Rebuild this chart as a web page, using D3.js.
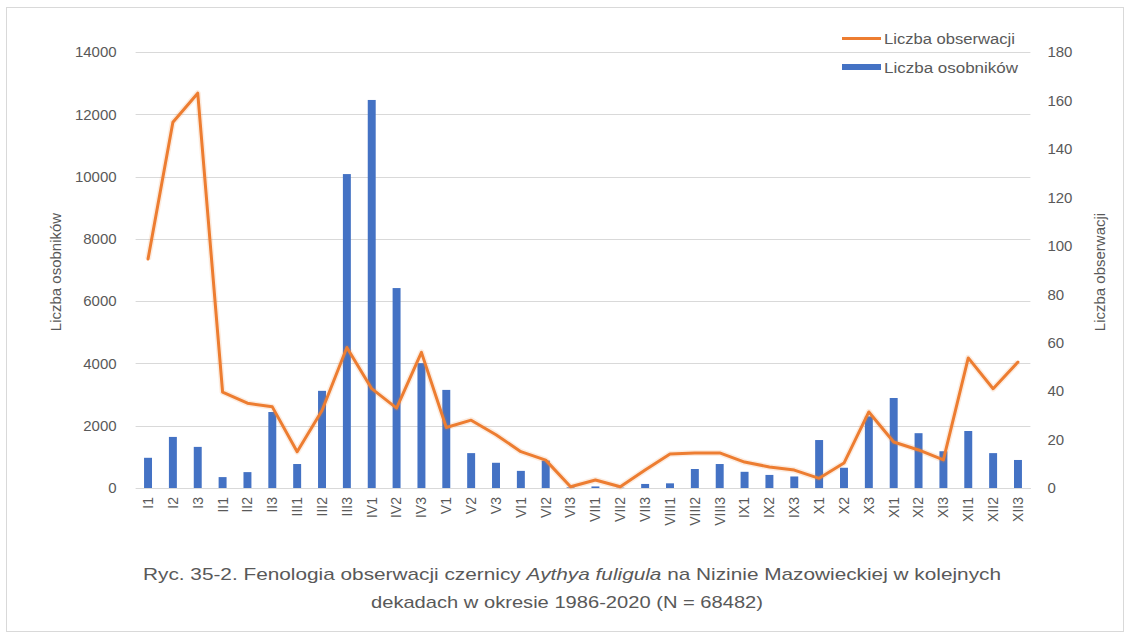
<!DOCTYPE html>
<html>
<head>
<meta charset="utf-8">
<script src="https://cdn.jsdelivr.net/npm/d3@7"></script>
<style>
  html, body { margin: 0; padding: 0; background: #fff; }
  svg { display: block; }
  text { font-family: "Liberation Sans", Arial, sans-serif; fill: #595959; }
</style>
</head>
<body>
<svg id="chart" width="1129" height="637"></svg>
<script>
const categories = ["I1","I2","I3","II1","II2","II3","III1","III2","III3","IV1","IV2","IV3",
  "V1","V2","V3","VI1","VI2","VI3","VII1","VII2","VII3","VIII1","VIII2","VIII3",
  "IX1","IX2","IX3","X1","X2","X3","XI1","XI2","XI3","XII1","XII2","XII3"];
// Liczba osobników (left axis, bars)
const individuals = [970,1640,1320,350,510,2440,770,3120,10080,12460,6420,4010,
  3150,1120,810,550,880,20,50,10,130,150,610,770,
  520,420,370,1540,650,2300,2890,1760,1180,1830,1120,900];
// Liczba obserwacji (right axis, line)
const observations = [94.5,151,163,39.6,35,33.5,15,32,58,41,33,56,
  25,28,22,15,11.5,0.5,3.3,0.5,7.4,14,14.5,14.5,
  10.7,8.7,7.4,4,10.3,31.4,19,15.7,11.6,53.7,41,52];
const leftTicks = [0,2000,4000,6000,8000,10000,12000,14000];
const rightTicks = [0,20,40,60,80,100,120,140,160,180];
const seriesNames = ["Liczba obserwacji","Liczba osobników"];
const captionLine1a = "Ryc. 35-2. Fenologia obserwacji czernicy ";
const captionItalic = "Aythya fuligula";
const captionLine1b = " na Nizinie Mazowieckiej w kolejnych";
const captionLine2 = "dekadach w okresie 1986-2020  (N = 68482)";

const svg = d3.select("#chart");
const W = 1129, H = 637;
const plot = {left: 135.6, right: 1030.4, top: 52, bottom: 488};

// frame
svg.append("rect").attr("x", 6.5).attr("y", 7.5).attr("width", 1117).attr("height", 624)
  .attr("fill", "#fff").attr("stroke", "#d9d9d9").attr("stroke-width", 1);

const x = d3.scaleBand().domain(categories).range([plot.left, plot.right]).paddingInner(0.68).paddingOuter(0.34);
const yL = d3.scaleLinear().domain([0, 14000]).range([plot.bottom, plot.top]);
const yR = d3.scaleLinear().domain([0, 180]).range([plot.bottom, plot.top]);

// gridlines
svg.append("g").selectAll("line").data(leftTicks).join("line")
  .attr("x1", plot.left).attr("x2", plot.right)
  .attr("y1", d => Math.round(yL(d)) + 0.5).attr("y2", d => Math.round(yL(d)) + 0.5)
  .attr("stroke", "#d9d9d9").attr("stroke-width", 1);

// left axis
const gL = svg.append("g").attr("transform", `translate(${plot.left},0)`)
  .call(d3.axisLeft(yL).tickValues(leftTicks).tickSize(0).tickPadding(19).tickFormat(d3.format("d")));
gL.select(".domain").remove();
gL.selectAll("text").style("font-size", "15px").style("fill", "#595959").style("font-family", "Liberation Sans, Arial, sans-serif");

// right axis
const gR = svg.append("g").attr("transform", `translate(${plot.right},0)`)
  .call(d3.axisRight(yR).tickValues(rightTicks).tickSize(0).tickPadding(17).tickFormat(d3.format("d")));
gR.select(".domain").remove();
gR.selectAll("text").style("font-size", "15px").style("fill", "#595959").style("font-family", "Liberation Sans, Arial, sans-serif");

// bars
svg.append("g").selectAll("rect").data(categories).join("rect")
  .attr("x", d => x(d))
  .attr("width", x.bandwidth())
  .attr("y", (d, i) => yL(individuals[i]))
  .attr("height", (d, i) => plot.bottom - yL(individuals[i]))
  .attr("fill", "#4472C4");

// x axis
const gX = svg.append("g").attr("transform", `translate(0,${plot.bottom})`)
  .call(d3.axisBottom(x).tickSize(0).tickPadding(0));
gX.select(".domain").attr("stroke", "#d9d9d9");
gX.selectAll("text")
  .style("font-size", "14px").style("fill", "#595959").style("font-family", "Liberation Sans, Arial, sans-serif")
  .attr("transform", "translate(0,9) rotate(-90)")
  .attr("dy", "0.35em").attr("x", 0).attr("y", 0)
  .style("text-anchor", "end");

// line
const line = d3.line().x((d, i) => x(categories[i]) + x.bandwidth() / 2).y(d => yR(d));
svg.append("path").datum(observations).attr("d", line)
  .attr("fill", "none").attr("stroke", "#ED7D31").attr("stroke-width", 6).attr("stroke-opacity", 0.15)
  .attr("stroke-linejoin", "round");
svg.append("path").datum(observations).attr("d", line)
  .attr("fill", "none").attr("stroke", "#ED7D31").attr("stroke-width", 3)
  .attr("stroke-linejoin", "round").attr("stroke-linecap", "round");

// axis titles
svg.append("text").attr("transform", "translate(61,272) rotate(-90)")
  .attr("text-anchor", "middle").style("font-size", "15px").text("Liczba osobników");
svg.append("text").attr("transform", "translate(1105,272) rotate(-90)")
  .attr("text-anchor", "middle").style("font-size", "15px").text("Liczba obserwacji");

// legend
const lg = svg.append("g");
lg.append("line").attr("x1", 842).attr("x2", 881).attr("y1", 38.5).attr("y2", 38.5)
  .attr("stroke", "#ED7D31").attr("stroke-width", 3);
lg.append("text").attr("x", 884).attr("y", 43.5).style("font-size", "14px")
  .attr("textLength", 131).attr("lengthAdjust", "spacingAndGlyphs").text(seriesNames[0]);
lg.append("rect").attr("x", 842).attr("y", 64).attr("width", 39).attr("height", 6).attr("fill", "#4472C4");
lg.append("text").attr("x", 884).attr("y", 72.5).style("font-size", "14px")
  .attr("textLength", 134).attr("lengthAdjust", "spacingAndGlyphs").text(seriesNames[1]);

// caption
const cap1 = svg.append("text").attr("x", 143).attr("y", 580).style("font-size", "17px")
  .attr("textLength", 858).attr("lengthAdjust", "spacingAndGlyphs");
cap1.append("tspan").text(captionLine1a);
cap1.append("tspan").style("font-style", "italic").text(captionItalic);
cap1.append("tspan").text(captionLine1b);
svg.append("text").attr("x", 567).attr("y", 608).attr("text-anchor", "middle").style("font-size", "17px")
  .attr("textLength", 392).attr("lengthAdjust", "spacingAndGlyphs").text(captionLine2);
</script>
</body>
</html>
